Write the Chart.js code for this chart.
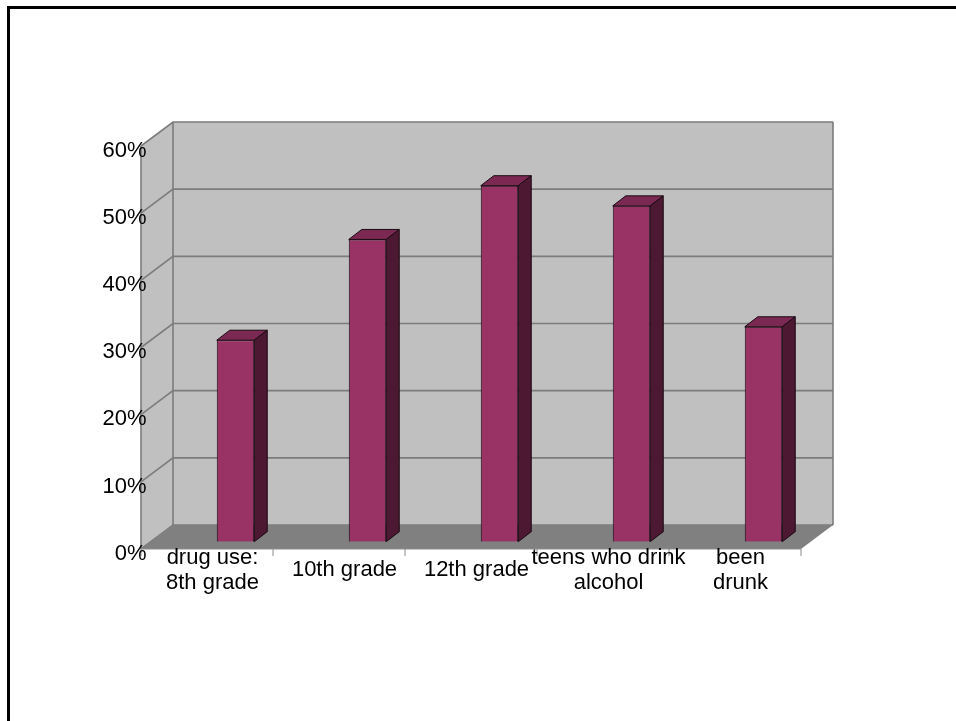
<!DOCTYPE html>
<html>

<head>
    <title>Teen drug and alcohol use</title>

    <style>
        body {
            margin: 0;
            background: #fff;
        }

        #frame {
            position: absolute;
            left: 7px;
            top: 6px;
            width: 949px;
            height: 715px;
            border-top: 3px solid #000;
            border-left: 3px solid #000;
        }

        #wrap {
            position: absolute;
            left: 0;
            top: 0;
            width: 956px;
            height: 721px;
        }
    </style>
</head>

<body>
    <div id="frame"></div>
    <div id="wrap">
        <canvas id="useChart"></canvas>
    </div>

    <script src="https://cdn.jsdelivr.net/npm/chart.js"></script>

    <script>
        // data
        const categories = [['drug use:', '8th grade'], '10th grade', '12th grade', ['teens who drink', 'alcohol'], ['been', 'drunk']];
        const percents = [30, 45, 53, 50, 32];
        const yMax = 60;
        const yStep = 10;

        // fake excel 3d look
        const back = { dx: 3.5, dy: -16.7 };   // back wall relative to bar plane
        const depth = { dx: -32, dy: 24 };     // front edge relative to back wall
        const barDepth = { dx: 13, dy: -10 };

        const wallPlugin = {
            id: 'wall3d',
            beforeDraw(chart) {
                const ctx = chart.ctx;
                const area = chart.chartArea;
                const y = chart.scales.y;
                const bl = area.left + back.dx, br = area.right + back.dx;
                const bt = y.getPixelForValue(yMax) + back.dy, bb = y.getPixelForValue(0) + back.dy;
                const fl = bl + depth.dx, fr = br + depth.dx;
                const ft = bt + depth.dy, fb = bb + depth.dy;

                ctx.save();
                // side wall
                ctx.fillStyle = '#c0c0c0';
                ctx.beginPath();
                ctx.moveTo(fl, ft); ctx.lineTo(bl, bt); ctx.lineTo(bl, bb); ctx.lineTo(fl, fb);
                ctx.closePath();
                ctx.fill();
                // back wall
                ctx.fillRect(bl, bt, br - bl, bb - bt);

                // gridlines
                ctx.strokeStyle = '#7c7c7c';
                ctx.lineWidth = 1.6;
                for (let v = 0; v <= yMax; v += yStep) {
                    const yy = y.getPixelForValue(v) + back.dy;
                    ctx.beginPath();
                    ctx.moveTo(fl, yy + depth.dy);
                    ctx.lineTo(bl, yy);
                    ctx.lineTo(br, yy);
                    ctx.stroke();
                }
                ctx.beginPath();
                ctx.moveTo(bl, bt); ctx.lineTo(bl, bb);
                ctx.moveTo(br, bt); ctx.lineTo(br, bb);
                ctx.moveTo(fl, ft); ctx.lineTo(fl, fb);
                ctx.stroke();

                // floor
                ctx.fillStyle = '#808080';
                ctx.beginPath();
                ctx.moveTo(bl, bb); ctx.lineTo(br, bb); ctx.lineTo(fr, fb); ctx.lineTo(fl, fb);
                ctx.closePath();
                ctx.fill();

                // category axis + ticks
                ctx.strokeStyle = '#8c8c8c';
                ctx.lineWidth = 1;
                ctx.beginPath();
                ctx.moveTo(fl, fb); ctx.lineTo(fr, fb);
                for (let i = 0; i <= categories.length; i++) {
                    const xx = fl + i * (fr - fl) / categories.length;
                    ctx.moveTo(xx, fb); ctx.lineTo(xx, fb + 7);
                }
                ctx.stroke();
                ctx.restore();
            },
            afterDatasetsDraw(chart) {
                const ctx = chart.ctx;
                const meta = chart.getDatasetMeta(0);
                ctx.save();
                ctx.strokeStyle = '#1a0a12';
                ctx.lineWidth = 1;
                meta.data.forEach(bar => {
                    const l = bar.x - bar.width / 2, r = bar.x + bar.width / 2;
                    const t = bar.y, b = bar.base;
                    // top face
                    ctx.fillStyle = '#7b2953';
                    ctx.beginPath();
                    ctx.moveTo(l, t); ctx.lineTo(r, t);
                    ctx.lineTo(r + barDepth.dx, t + barDepth.dy); ctx.lineTo(l + barDepth.dx, t + barDepth.dy);
                    ctx.closePath();
                    ctx.fill(); ctx.stroke();
                    // side face
                    ctx.fillStyle = '#4c1832';
                    ctx.beginPath();
                    ctx.moveTo(r, t); ctx.lineTo(r + barDepth.dx, t + barDepth.dy);
                    ctx.lineTo(r + barDepth.dx, b + barDepth.dy); ctx.lineTo(r, b);
                    ctx.closePath();
                    ctx.fill(); ctx.stroke();
                });
                ctx.restore();
            }
        };

        const labelFont = { family: "'Liberation Sans', Arial, sans-serif", size: 22, lineHeight: 1.15 };

        new Chart(document.getElementById('useChart'), {
            type: 'bar',
            data: {
                labels: categories,
                datasets: [{
                    label: 'Percent',
                    data: percents,
                    backgroundColor: '#993366',
                    borderColor: '#1a0a12',
                    borderWidth: 1,
                    categoryPercentage: 1,
                    barPercentage: 0.284
                }]
            },
            options: {
                responsive: true,
                maintainAspectRatio: false,
                animation: false,
                layout: {
                    padding: { left: 69.5, right: 126.5, top: 138.7, bottom: 79.3 }
                },
                plugins: {
                    legend: { display: false },
                    tooltip: { enabled: false }
                },
                scales: {
                    x: {
                        grid: { display: false, drawTicks: false },
                        border: { display: false },
                        ticks: {
                            color: '#000',
                            font: labelFont,
                            maxRotation: 0,
                            autoSkip: false,
                            crossAlign: 'center',
                            labelOffset: -23,
                            padding: 16
                        },
                        afterFit: s => { s.height = 100; }
                    },
                    y: {
                        min: 0,
                        max: yMax,
                        grid: { display: false, drawTicks: false },
                        border: { display: false },
                        ticks: {
                            stepSize: yStep,
                            color: '#000',
                            font: labelFont,
                            padding: 23,
                            labelOffset: 12,
                            callback: v => v + '%'
                        },
                        afterFit: s => { s.width = 100; }
                    }
                }
            },
            plugins: [wallPlugin]
        });
    </script>

</body>

</html>
